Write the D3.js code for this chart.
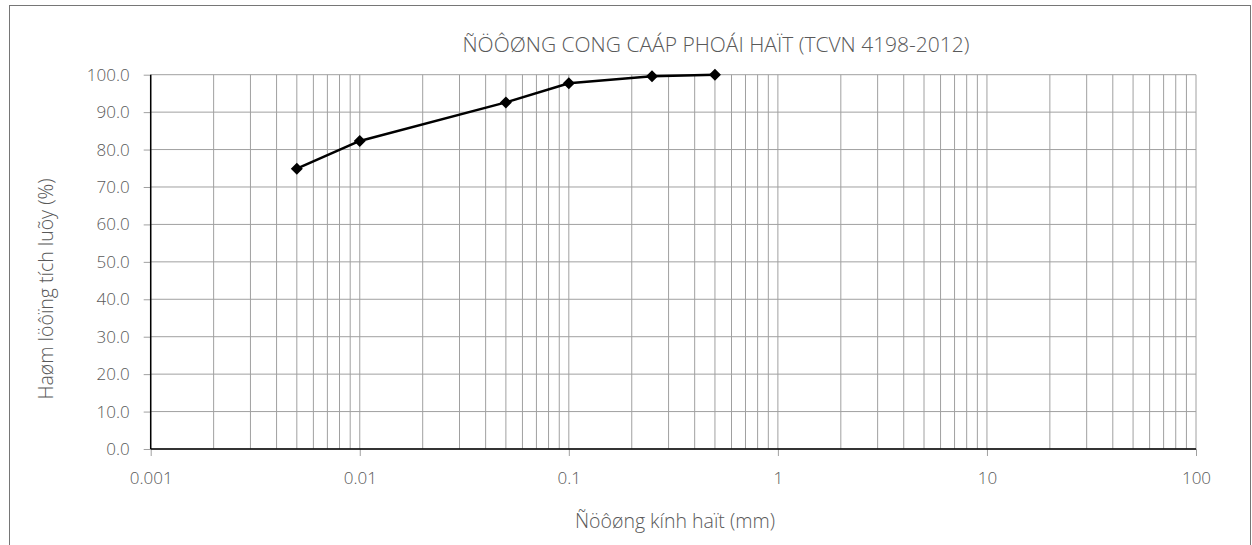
<!DOCTYPE html>
<html>
<head>
<meta charset="utf-8">
<script src="https://cdn.jsdelivr.net/npm/d3@7"></script>
<style>
  body { margin: 0; background: #fff; }
  text { font-family: "Open Sans", "Liberation Sans", Arial, sans-serif; font-weight: 300; fill: #595959; }
</style>
</head>
<body>
<div id="chart"></div>
<script>
// grain size (mm) and cumulative passing (%)
var grainSize = [0.005, 0.01, 0.05, 0.1, 0.25, 0.5];
var passing = [74.9, 82.3, 92.6, 97.7, 99.6, 100.0];

var xTickValues = [0.001, 0.01, 0.1, 1, 10, 100];
var xTickLabels = ["0.001", "0.01", "0.1", "1", "10", "100"];
var yTickValues = [0, 10, 20, 30, 40, 50, 60, 70, 80, 90, 100];

var titleText = "ÑÖÔØNG CONG CAÁP PHOÁI HAÏT (TCVN 4198-2012)";
var xTitle = "Ñöôøng kính haït (mm)";
var yTitle = "Haøm löôïng tích luõy (%)";

var W = 1252, H = 545;
var font = 17;
var fontFamily = "'Open Sans', 'Liberation Sans', Arial, sans-serif";

var svg = d3.select("#chart").append("svg")
    .attr("width", W)
    .attr("height", H);

svg.append("rect").attr("width", W).attr("height", H).style("fill", "#fff");

// outer chart border (bottom edge is off the page)
svg.append("rect")
    .attr("x", 9.5).attr("y", 5.5)
    .attr("width", 1241).attr("height", 560)
    .style("fill", "none")
    .style("stroke", "#767676")
    .style("stroke-width", 1);

var x = d3.scaleLog().domain([0.001, 100]).range([150.7, 1196]);
var y = d3.scaleLinear().domain([0, 100]).range([449, 74.7]);

// minor log grid values 1..9 x 10^n
var gridX = [];
for (var e = -3; e <= 1; e++) {
  for (var k = 1; k <= 9; k++) gridX.push(k * Math.pow(10, e));
}
gridX.push(100);

var grid = svg.append("g");
grid.selectAll(".vg")
  .data(gridX)
  .enter()
  .append("line")
  .attr("x1", d => x(d)).attr("x2", d => x(d))
  .attr("y1", y(0)).attr("y2", y(100))
  .style("stroke", "#a0a0a0")
  .style("stroke-width", 1);

grid.selectAll(".hg")
  .data(yTickValues)
  .enter()
  .append("line")
  .attr("x1", x(0.001)).attr("x2", x(100))
  .attr("y1", d => y(d)).attr("y2", d => y(d))
  .style("stroke", "#a0a0a0")
  .style("stroke-width", 1);

// y axis
var yAxis = svg.append("g")
  .attr("transform", "translate(" + x(0.001) + ",0)")
  .call(d3.axisLeft(y).tickValues(yTickValues).tickFormat(d3.format(".1f")).tickSize(7).tickPadding(14));
yAxis.selectAll("text").style("font-size", font + "px").style("font-family", fontFamily).attr("fill", "#595959");
yAxis.selectAll(".tick line").style("stroke", "#a0a0a0");
yAxis.select(".domain").remove();

// x axis
var xAxis = svg.append("g")
  .attr("transform", "translate(0," + y(0) + ")")
  .call(d3.axisBottom(x).tickValues(xTickValues).tickFormat((d, i) => xTickLabels[i]).tickSize(7).tickPadding(16));
xAxis.selectAll("text").style("font-size", font + "px").style("font-family", fontFamily).attr("fill", "#595959");
xAxis.selectAll(".tick line").style("stroke", "#a0a0a0");
xAxis.select(".domain").remove();

// black axis lines
svg.append("line")
  .attr("x1", x(0.001)).attr("x2", x(0.001))
  .attr("y1", y(100)).attr("y2", y(0))
  .style("stroke", "#000").style("stroke-width", 1.5);
svg.append("line")
  .attr("x1", x(0.001)).attr("x2", x(100))
  .attr("y1", y(0)).attr("y2", y(0))
  .style("stroke", "#000").style("stroke-width", 1.5);

// data line
var line = d3.line()
  .x((d, i) => x(grainSize[i]))
  .y(d => y(d));

svg.append("path")
  .datum(passing)
  .attr("d", line)
  .style("fill", "none")
  .style("stroke", "#000")
  .style("stroke-width", 2.5)
  .style("stroke-linejoin", "round");

svg.selectAll(".marker")
  .data(passing)
  .enter()
  .append("path")
  .attr("d", d3.symbol(d3.symbolSquare, 72))
  .attr("transform", (d, i) => "translate(" + x(grainSize[i]) + "," + y(d) + ") rotate(45)")
  .style("fill", "#000");

// titles
svg.append("text")
  .attr("x", 716).attr("y", 52)
  .attr("text-anchor", "middle")
  .style("font-size", "21px")
  .text(titleText);

svg.append("text")
  .attr("x", 675).attr("y", 528)
  .attr("text-anchor", "middle")
  .style("font-size", "19.5px")
  .text(xTitle);

svg.append("text")
  .attr("transform", "translate(53,289) rotate(-90)")
  .attr("text-anchor", "middle")
  .style("font-size", "19.5px")
  .text(yTitle);
</script>
</body>
</html>
